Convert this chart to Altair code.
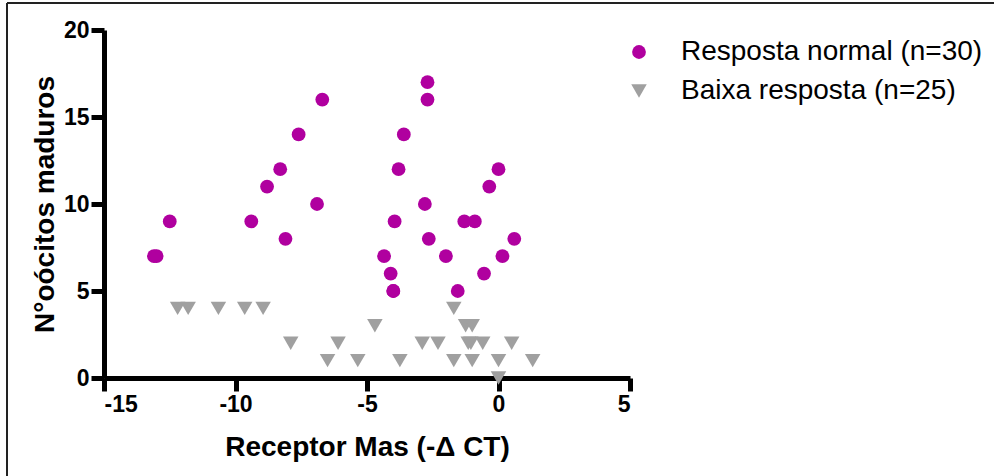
import altair as alt
import pandas as pd

# ---- data ----
normal_x = [-13.1, -13.0, -12.5, -9.4, -8.8, -8.3, -7.6, -6.7, -6.9, -8.1,
            -2.7, -2.7, -3.6, -3.8, 0.0, -0.35, -2.8, -3.95, -1.3, -0.9,
            -2.65, 0.6, -4.35, -2.0, 0.15, -4.1, -0.55, -4.0, -1.55, -4.0]
normal_y = [7, 7, 9, 9, 11, 12, 14, 16, 10, 8,
            17, 16, 14, 12, 12, 11, 10, 9, 9, 9,
            8, 8, 7, 7, 7, 6, 6, 5, 5, 5]

low_x = [-12.2, -11.8, -10.65, -9.65, -8.95, -7.9, -6.1, -6.5, -5.35, -4.7,
         -3.75, -2.9, -2.3, -1.7, -1.25, -1.0, -1.05, -1.15, -0.6, 0.5,
         -1.7, -1.0, 0.0, 1.3, 0.0]
low_y = [4, 4, 4, 4, 4, 2, 2, 1, 1, 3,
         1, 2, 2, 4, 3, 3, 2, 2, 2, 2,
         1, 1, 1, 1, 0]

groups = ["Resposta normal (n=30)", "Baixa resposta (n=25)"]
x_ticks = [-15, -10, -5, 0, 5]
y_ticks = [0, 5, 10, 15, 20]

df = pd.concat([
    pd.DataFrame({"x": normal_x, "y": normal_y, "g": groups[0]}),
    pd.DataFrame({"x": low_x, "y": low_y, "g": groups[1]}),
])

W, H = 526, 348
PL, PT = 104, 30
FONT = "Liberation Sans"

points = alt.Chart(df).mark_point(filled=True, opacity=1).encode(
    x=alt.X("x:Q", scale=alt.Scale(domain=[-15, 5], nice=False, zero=False),
            axis=alt.Axis(values=x_ticks, title="Receptor Mas (-\u0394 CT)",
                          labelExpr="replace(datum.label, '\u2212', '-')")),
    y=alt.Y("y:Q", scale=alt.Scale(domain=[0, 20], nice=False),
            axis=alt.Axis(values=y_ticks, title="N\u00b0o\u00f3citos maduros")),
    color=alt.Color("g:N", scale=alt.Scale(domain=groups, range=["#B0009F", "#A0A0A0"]),
                    legend=alt.Legend(title=None, orient="none", legendX=521, legendY=8,
                                      labelFontSize=28, labelFont=FONT, labelColor="black",
                                      labelLimit=0, symbolSize=190, labelOffset=28,
                                      rowPadding=11, padding=0)),
    shape=alt.Shape("g:N", scale=alt.Scale(domain=groups, range=["circle", "triangle-down"]),
                    legend=None),
    size=alt.Size("g:N", scale=alt.Scale(domain=groups, range=[190, 240]), legend=None),
)

frame_top = alt.Chart().mark_rule(color="#222", strokeWidth=2).encode(
    x=alt.value(7 - PL), x2=alt.value(994 - PL), y=alt.value(3 - PT))
frame_left = alt.Chart().mark_rule(color="#222", strokeWidth=2).encode(
    x=alt.value(7 - PL), y=alt.value(3 - PT), y2=alt.value(476 - PT))

chart = alt.layer(points, frame_top, frame_left).properties(
    width=W, height=H,
    autosize=alt.AutoSizeParams(type="none"),
    padding={"left": PL, "top": PT, "right": 994 - PL - W, "bottom": 476 - PT - H},
).configure_view(stroke=None).configure_axis(
    grid=False,
    domainColor="black", domainWidth=5,
    tickColor="black", tickWidth=5, tickSize=13,
    labelFont=FONT, labelFontSize=23, labelFontWeight="bold", labelColor="black",
    labelPadding=2,
    titleFont=FONT, titleFontSize=28, titleFontWeight="bold", titleColor="black",
).configure_axisX(titlePadding=17).configure_axisY(titlePadding=4)

chart.save("out.html", embed_options={"renderer": "svg", "actions": False})
